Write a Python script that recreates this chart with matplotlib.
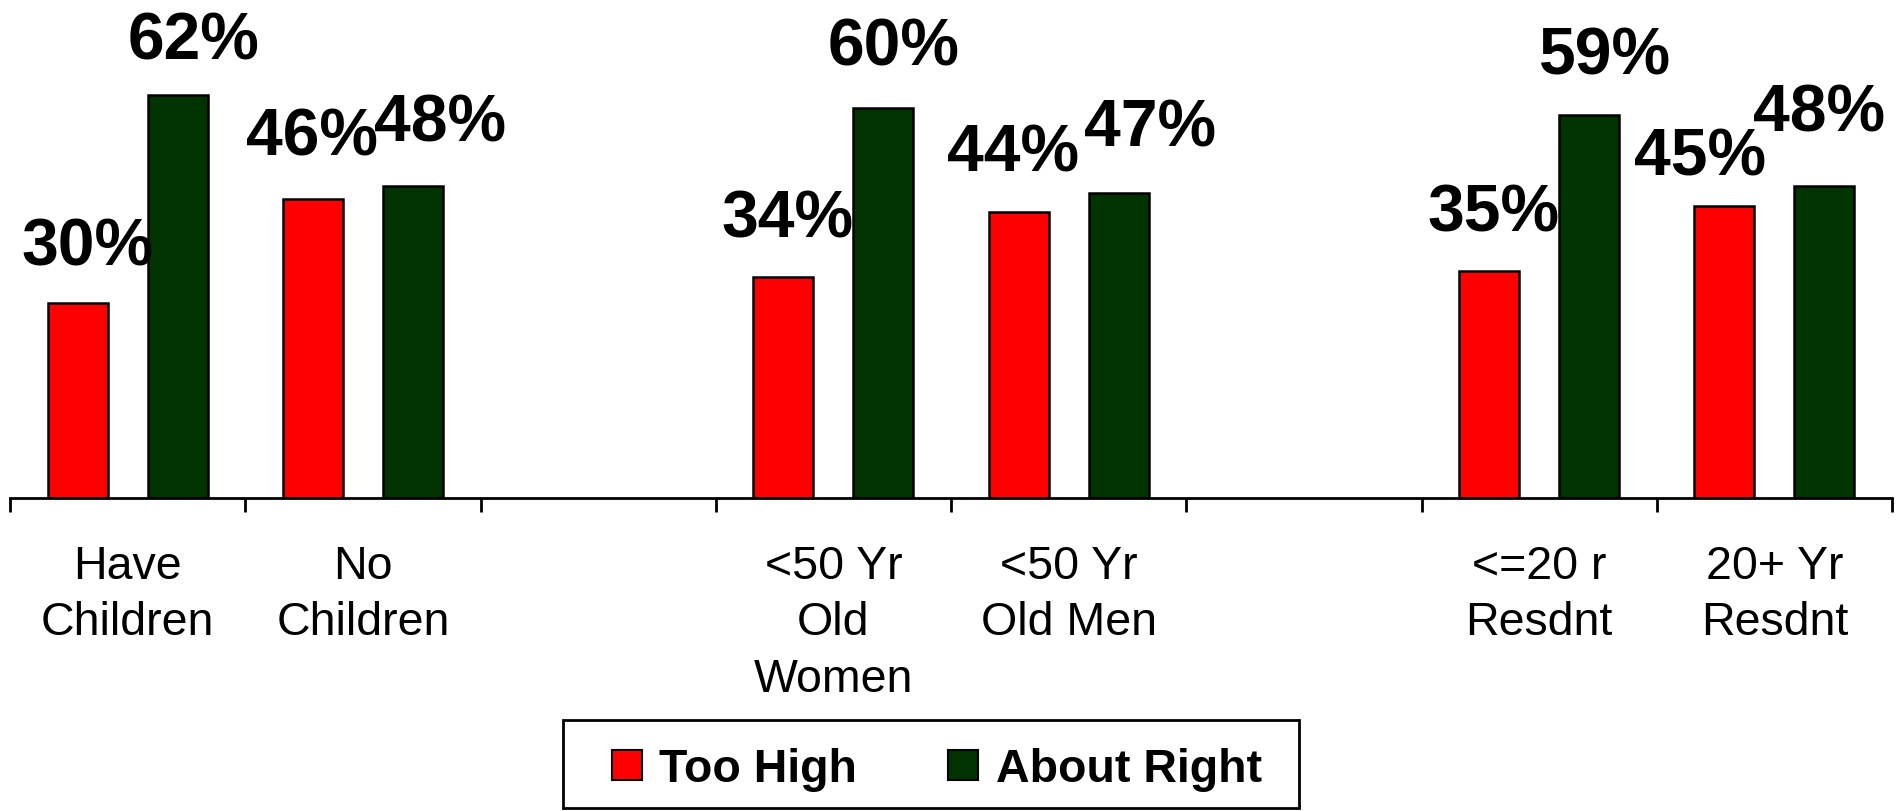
import numpy as np
import matplotlib
matplotlib.use("Agg")
import matplotlib.pyplot as plt
from matplotlib.patches import Rectangle, Patch

plt.rcParams['font.family'] = ['Liberation Sans', 'DejaVu Sans']

# ---- data ----
categories = ["Have\nChildren", "No\nChildren", "", "<50 Yr\nOld\nWomen",
              "<50 Yr\nOld Men", "", "<=20 r\nResdnt", "20+ Yr\nResdnt"]
too_high = [30, 46, None, 34, 44, None, 35, 45]
about_right = [62, 48, None, 60, 47, None, 59, 48]
series_names = ["Too High", "About Right"]

# label nudges (pixels) as placed in the original
red_dx = [10, -1, 0, 4, -6, 0, 4, -24]
red_dy = [39, 44, 0, 40, 41, 0, 40, 31]
green_dx = [16, 27, 0, 10, 31, 0, 16, -5]
green_dy = [36, 46, 0, 43, 47, 0, 41, 56]

RED = "#FF0000"
GREEN = "#003300"

W, H = 1904, 812
fig = plt.figure(figsize=(W / 100, H / 100), dpi=100)
ax = fig.add_axes([10 / W, (H - 499) / H, (1892 - 10) / W, 499 / H])

x = np.arange(len(categories))
off = 0.2125
bw = 0.255
px2pt = 0.72

for i, (r, g) in enumerate(zip(too_high, about_right)):
    if r is not None:
        ax.bar(x[i] - off, r, width=bw, color=RED, edgecolor="black", linewidth=1.8, zorder=2)
        ax.annotate(f"{r}%", xy=(x[i] - off, r), xytext=(red_dx[i] * px2pt, red_dy[i] * px2pt),
                    textcoords="offset points", ha="center", va="baseline",
                    fontsize=47.5, fontweight="bold", color="black", annotation_clip=False)
    if g is not None:
        ax.bar(x[i] + off, g, width=bw, color=GREEN, edgecolor="black", linewidth=1.8, zorder=2)
        ax.annotate(f"{g}%", xy=(x[i] + off, g), xytext=(green_dx[i] * px2pt, green_dy[i] * px2pt),
                    textcoords="offset points", ha="center", va="baseline",
                    fontsize=47.5, fontweight="bold", color="black", annotation_clip=False)

ax.set_xlim(-0.5, len(categories) - 0.5)
ax.set_ylim(0, 499 / 6.5)

for s in ["top", "right", "left"]:
    ax.spines[s].set_visible(False)
ax.spines["bottom"].set_linewidth(2.0)
ax.set_yticks([])

ax.set_xticks(np.arange(-0.5, len(categories)))
ax.set_xticklabels([])
ax.tick_params(axis="x", which="major", direction="out", length=10, width=2.0, color="black")
ax.set_xticks(x, minor=True)
ax.set_xticklabels(categories, minor=True, fontsize=33.5, linespacing=1.37)
ax.tick_params(axis="x", which="minor", length=0, pad=33)

# legend
fig.patches.append(Rectangle((563 / W, (H - 809) / H), (1299 - 563) / W, (809 - 721) / H,
                             transform=fig.transFigure, fill=False, edgecolor="black",
                             linewidth=2.0, zorder=5))
handles = [Patch(facecolor=RED, edgecolor="black", linewidth=1.5),
           Patch(facecolor=GREEN, edgecolor="black", linewidth=1.5)]
fig.legend(handles, series_names, loc="center", bbox_to_anchor=(937 / W, (H - 770) / H),
           ncol=2, frameon=False, prop={"size": 33.5, "weight": "bold"},
           handlelength=0.645, handleheight=0.62, handletextpad=0.37, columnspacing=1.96,
           borderpad=0.0, borderaxespad=0.0)

fig.savefig("out.png", dpi=100, facecolor="white")
